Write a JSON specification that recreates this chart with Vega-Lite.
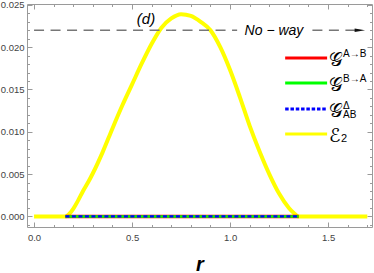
{
  "$schema": "https://vega.github.io/schema/vega-lite/v6.json",
  "width": 345,
  "height": 223,
  "autosize": {"type": "none"},
  "padding": {"left": 27, "top": 4, "right": 2, "bottom": 46},
  "config": {
    "view": {"stroke": "#9a9a9a", "strokeWidth": 1},
    "axis": {"domain": false, "grid": false, "tickColor": "#9a9a9a", "tickWidth": 1, "labelColor": "#444", "labelFont": "Liberation Sans", "labelFontSize": 9.5}
  },
  "datasets": {
    "curves": [
      {"s": "E2", "r": 0, "v": 0}, {"s": "E2", "r": 0.05, "v": 0}, {"s": "E2", "r": 0.1, "v": 0}, {"s": "E2", "r": 0.15, "v": 0},
      {"s": "E2", "r": 0.16, "v": 0}, {"s": "E2", "r": 0.175, "v": 0.0002}, {"s": "E2", "r": 0.2, "v": 0.0009},
      {"s": "E2", "r": 0.225, "v": 0.0019}, {"s": "E2", "r": 0.25, "v": 0.003}, {"s": "E2", "r": 0.275, "v": 0.004},
      {"s": "E2", "r": 0.3, "v": 0.0051}, {"s": "E2", "r": 0.35, "v": 0.0076}, {"s": "E2", "r": 0.4, "v": 0.0104},
      {"s": "E2", "r": 0.45, "v": 0.0131}, {"s": "E2", "r": 0.5, "v": 0.0156}, {"s": "E2", "r": 0.55, "v": 0.0181},
      {"s": "E2", "r": 0.6, "v": 0.0204}, {"s": "E2", "r": 0.65, "v": 0.0223}, {"s": "E2", "r": 0.7, "v": 0.0234},
      {"s": "E2", "r": 0.75, "v": 0.0239}, {"s": "E2", "r": 0.8, "v": 0.0237}, {"s": "E2", "r": 0.85, "v": 0.023},
      {"s": "E2", "r": 0.9, "v": 0.022}, {"s": "E2", "r": 0.95, "v": 0.02}, {"s": "E2", "r": 1.0, "v": 0.0173},
      {"s": "E2", "r": 1.05, "v": 0.0141}, {"s": "E2", "r": 1.1, "v": 0.0107}, {"s": "E2", "r": 1.15, "v": 0.0077},
      {"s": "E2", "r": 1.2, "v": 0.005}, {"s": "E2", "r": 1.25, "v": 0.0027}, {"s": "E2", "r": 1.3, "v": 0.001},
      {"s": "E2", "r": 1.325, "v": 0.0004}, {"s": "E2", "r": 1.35, "v": 0}, {"s": "E2", "r": 1.4, "v": 0},
      {"s": "E2", "r": 1.5, "v": 0}, {"s": "E2", "r": 1.6, "v": 0}, {"s": "E2", "r": 1.7, "v": 0},
      {"s": "GAB", "r": 0.16, "v": 0}, {"s": "GAB", "r": 0.5, "v": 0}, {"s": "GAB", "r": 1.0, "v": 0}, {"s": "GAB", "r": 1.35, "v": 0},
      {"s": "GBA", "r": 0.16, "v": 0}, {"s": "GBA", "r": 0.5, "v": 0}, {"s": "GBA", "r": 1.0, "v": 0}, {"s": "GBA", "r": 1.35, "v": 0},
      {"s": "GD", "r": 0.16, "v": 0}, {"s": "GD", "r": 0.5, "v": 0}, {"s": "GD", "r": 1.0, "v": 0}, {"s": "GD", "r": 1.35, "v": 0}
    ],
    "legend": [
      {"s": "GAB", "v": 0.01872, "base": "𝒢", "sup": "A→B", "sub": ""},
      {"s": "GBA", "v": 0.01577, "base": "𝒢", "sup": "B→A", "sub": ""},
      {"s": "GD", "v": 0.01269, "base": "𝒢", "sup": "Δ", "sub": "AB"},
      {"s": "E2", "v": 0.00974, "base": "ℰ", "sup": "", "sub": "2"}
    ]
  },
  "data": {"name": "curves"},
  "layer": [
    {
      "mark": {"type": "line", "opacity": 0},
      "encoding": {
        "x": {"field": "r", "type": "quantitative", "scale": {"domain": [-0.036, 1.724], "nice": false, "zero": false},
          "axis": {"orient": "bottom", "values": [0, 0.5, 1, 1.5], "format": ".1f", "tickSize": -5, "labelPadding": 10,
            "title": "r", "titleFont": "Liberation Sans", "titleFontSize": 20, "titleFontStyle": "italic", "titleFontWeight": "bold", "titleColor": "#000", "titleY": 43, "titleBaseline": "alphabetic"}},
        "y": {"field": "v", "type": "quantitative", "scale": {"domain": [-0.00125, 0.0251], "nice": false, "zero": false},
          "axis": {"orient": "left", "values": [0, 0.005, 0.01, 0.015, 0.02, 0.025], "format": ".3f", "tickSize": -5, "labelPadding": 8, "title": null}}
      }
    },
    {
      "mark": {"type": "line", "opacity": 0},
      "encoding": {
        "x": {"field": "r", "type": "quantitative",
          "axis": {"orient": "bottom", "values": [0.1, 0.2, 0.3, 0.4, 0.6, 0.7, 0.8, 0.9, 1.1, 1.2, 1.3, 1.4, 1.6, 1.7], "tickSize": -2.5, "labels": false, "title": null}},
        "y": {"field": "v", "type": "quantitative",
          "axis": {"orient": "left", "values": [-0.001, 0.001, 0.002, 0.003, 0.004, 0.006, 0.007, 0.008, 0.009, 0.011, 0.012, 0.013, 0.014, 0.016, 0.017, 0.018, 0.019, 0.021, 0.022, 0.023, 0.024], "tickSize": -2.5, "labels": false, "title": null}}
      }
    },
    {
      "mark": {"type": "line", "opacity": 0},
      "encoding": {
        "x": {"field": "r", "type": "quantitative",
          "axis": {"orient": "top", "values": [0, 0.5, 1, 1.5], "tickSize": -5, "labels": false, "title": null}},
        "y": {"field": "v", "type": "quantitative",
          "axis": {"orient": "right", "values": [0, 0.005, 0.01, 0.015, 0.02, 0.025], "tickSize": -5, "labels": false, "title": null}}
      }
    },
    {
      "mark": {"type": "line", "opacity": 0},
      "encoding": {
        "x": {"field": "r", "type": "quantitative",
          "axis": {"orient": "top", "values": [0.1, 0.2, 0.3, 0.4, 0.6, 0.7, 0.8, 0.9, 1.1, 1.2, 1.3, 1.4, 1.6, 1.7], "tickSize": -2.5, "labels": false, "title": null}},
        "y": {"field": "v", "type": "quantitative",
          "axis": {"orient": "right", "values": [-0.001, 0.001, 0.002, 0.003, 0.004, 0.006, 0.007, 0.008, 0.009, 0.011, 0.012, 0.013, 0.014, 0.016, 0.017, 0.018, 0.019, 0.021, 0.022, 0.023, 0.024], "tickSize": -2.5, "labels": false, "title": null}}
      }
    },
    {
      "transform": [{"filter": "datum.s === 'E2'"}],
      "mark": {"type": "line", "interpolate": "monotone", "strokeWidth": 4, "color": "#ffff00"},
      "encoding": {
        "x": {"field": "r", "type": "quantitative", "axis": null},
        "y": {"field": "v", "type": "quantitative", "axis": null}
      }
    },
    {
      "transform": [{"filter": "datum.s === 'GAB'"}],
      "mark": {"type": "line", "strokeWidth": 3.5, "color": "#ff0000"},
      "encoding": {
        "x": {"field": "r", "type": "quantitative", "axis": null},
        "y": {"field": "v", "type": "quantitative", "axis": null}
      }
    },
    {
      "transform": [{"filter": "datum.s === 'GBA'"}],
      "mark": {"type": "line", "strokeWidth": 2.5, "color": "#00ff00"},
      "encoding": {
        "x": {"field": "r", "type": "quantitative", "axis": null},
        "y": {"field": "v", "type": "quantitative", "axis": null}
      }
    },
    {
      "transform": [{"filter": "datum.s === 'GD'"}],
      "mark": {"type": "line", "strokeWidth": 2.2, "color": "#0000ff", "strokeDash": [4, 2.5]},
      "encoding": {
        "x": {"field": "r", "type": "quantitative", "axis": null},
        "y": {"field": "v", "type": "quantitative", "axis": null}
      }
    },
    {
      "data": {"values": [{"a": 0, "b": 1.036}, {"a": 1.42, "b": 1.64}]},
      "mark": {"type": "rule", "color": "#777", "strokeWidth": 1.3, "strokeDash": [10, 6.5]},
      "encoding": {
        "x": {"field": "a", "type": "quantitative", "axis": null},
        "x2": {"field": "b"},
        "y": {"datum": 0.022, "type": "quantitative", "axis": null}
      }
    },
    {
      "data": {"values": [{}]},
      "mark": {"type": "point", "shape": "M-1,-0.32L1,0L-1,0.32Z", "size": 110, "filled": true, "color": "#111", "opacity": 1},
      "encoding": {
        "x": {"datum": 1.662, "type": "quantitative", "axis": null},
        "y": {"datum": 0.022, "type": "quantitative", "axis": null}
      }
    },
    {
      "data": {"values": [{"t": "No − way"}]},
      "mark": {"type": "text", "font": "Liberation Sans", "fontSize": 14, "fontStyle": "italic", "color": "#000", "align": "center", "baseline": "middle", "dy": 1},
      "encoding": {
        "x": {"datum": 1.224, "type": "quantitative", "axis": null},
        "y": {"datum": 0.022, "type": "quantitative", "axis": null},
        "text": {"field": "t"}
      }
    },
    {
      "data": {"values": [{"t": "(d)"}]},
      "mark": {"type": "text", "font": "Liberation Sans", "fontSize": 15, "fontStyle": "italic", "color": "#000", "align": "center", "baseline": "middle"},
      "encoding": {
        "x": {"datum": 0.571, "type": "quantitative", "axis": null},
        "y": {"datum": 0.0233, "type": "quantitative", "axis": null},
        "text": {"field": "t"}
      }
    },
    {
      "data": {"name": "legend"},
      "mark": {"type": "rule", "strokeWidth": 3},
      "encoding": {
        "x": {"datum": 1.281, "type": "quantitative", "axis": null},
        "x2": {"datum": 1.495},
        "y": {"field": "v", "type": "quantitative", "axis": null},
        "color": {"field": "s", "type": "nominal", "legend": null, "scale": {"domain": ["E2", "GAB", "GBA", "GD"], "range": ["#ffff00", "#ff0000", "#00ff00", "#0000ff"]}},
        "strokeDash": {"field": "s", "type": "nominal", "legend": null, "scale": {"domain": ["E2", "GAB", "GBA", "GD"], "range": [[1, 0], [1, 0], [1, 0], [3.5, 1.8]]}}
      }
    },
    {
      "data": {"name": "legend"},
      "mark": {"type": "text", "font": "DejaVu Sans", "fontSize": 19, "color": "#000", "align": "left", "baseline": "middle", "dy": 2},
      "encoding": {
        "x": {"datum": 1.505, "type": "quantitative", "axis": null},
        "y": {"field": "v", "type": "quantitative", "axis": null},
        "text": {"field": "base"}
      }
    },
    {
      "data": {"name": "legend"},
      "mark": {"type": "text", "font": "Liberation Sans", "fontSize": 10, "color": "#000", "align": "left", "baseline": "middle", "dx": 14, "dy": -3.5},
      "encoding": {
        "x": {"datum": 1.505, "type": "quantitative", "axis": null},
        "y": {"field": "v", "type": "quantitative", "axis": null},
        "text": {"field": "sup"}
      }
    },
    {
      "data": {"name": "legend"},
      "transform": [{"filter": "datum.s === 'GD'"}],
      "mark": {"type": "text", "font": "Liberation Sans", "fontSize": 10, "color": "#000", "align": "left", "baseline": "middle", "dx": 14, "dy": 6},
      "encoding": {
        "x": {"datum": 1.505, "type": "quantitative", "axis": null},
        "y": {"field": "v", "type": "quantitative", "axis": null},
        "text": {"field": "sub"}
      }
    },
    {
      "data": {"name": "legend"},
      "transform": [{"filter": "datum.s === 'E2'"}],
      "mark": {"type": "text", "font": "Liberation Sans", "fontSize": 11, "color": "#000", "align": "left", "baseline": "middle", "dx": 12, "dy": 5},
      "encoding": {
        "x": {"datum": 1.505, "type": "quantitative", "axis": null},
        "y": {"field": "v", "type": "quantitative", "axis": null},
        "text": {"field": "sub"}
      }
    }
  ],
  "resolve": {"axis": {"x": "independent", "y": "independent"}}
}
